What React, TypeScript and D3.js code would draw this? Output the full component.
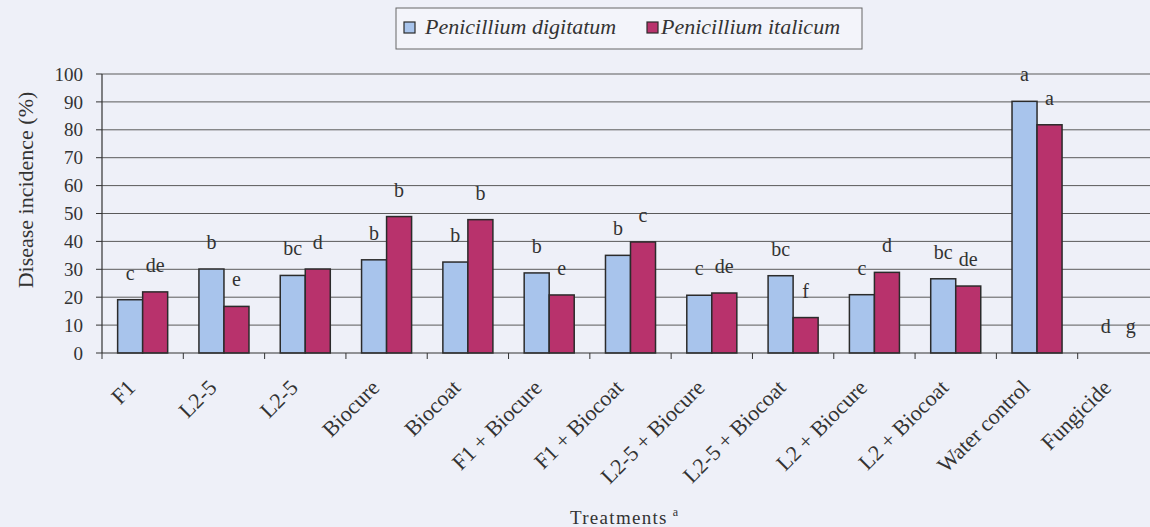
import React from "react";
import * as d3 from "d3";

const categories = [
  "F1", "L2-5", "L2-5 ", "Biocure", "Biocoat", "F1 + Biocure", "F1 + Biocoat",
  "L2-5 + Biocure", "L2-5 + Biocoat", "L2 + Biocure", "L2 + Biocoat", "Water control", "Fungicide",
];
const seriesNames = ["Penicillium digitatum", "Penicillium italicum"];
const digitatum = [19.1, 30.1, 27.8, 33.4, 32.6, 28.7, 35.0, 20.7, 27.7, 20.9, 26.6, 90.2, 0];
const italicum = [21.9, 16.7, 30.1, 48.9, 47.8, 20.8, 39.8, 21.5, 12.7, 28.9, 24.0, 81.8, 0];
const digitatumLetters = ["c", "b", "bc", "b", "b", "b", "b", "c", "bc", "c", "bc", "a", "d"];
const italicumLetters = ["de", "e", "d", "b", "b", "e", "c", "de", "f", "d", "de", "a", "g"];
const yTicks = [0, 10, 20, 30, 40, 50, 60, 70, 80, 90, 100];

const colors = ["#a8c4ec", "#b8326c"];
const FONT = "'Liberation Serif', 'DejaVu Serif', serif";
const ts = (size: number, extra: React.CSSProperties = {}): React.CSSProperties => ({
  fontFamily: FONT, fontSize: size, fill: "#333", ...extra,
});

export default function App() {
  const W = 1150, H = 527;
  const left = 102, right = 1159, top = 74, bottom = 353;
  const x = d3.scaleBand<string>().domain(categories).range([left, right]).padding(0);
  const x1 = d3.scaleBand<string>().domain(seriesNames).range([0, x.bandwidth()]).paddingInner(0).paddingOuter(0.625);
  const y = d3.scaleLinear().domain([0, 100]).range([bottom, top]);
  const series = [digitatum, italicum];
  const letters = [digitatumLetters, italicumLetters];

  return (
    <svg width={W} height={H} style={{ position: "absolute", left: 0, top: 0, background: "#eef0f8" }}>
      <rect x={0} y={0} width={W} height={H} fill="#eef0f8" />
      {yTicks.filter(t => t > 0).map(t => (
        <line key={"g" + t} x1={left} x2={W} y1={y(t)} y2={y(t)} stroke="#5a5a5a" strokeWidth={1} />
      ))}
      {categories.map((c, i) => (
        <g key={"c" + i} transform={`translate(${x(c)},0)`}>
          {series.map((s, j) => s[i] > 0 ? (
            <rect key={j} x={x1(seriesNames[j])} y={y(s[i])} width={x1.bandwidth()} height={y(0) - y(s[i])}
              fill={colors[j]} stroke="#2b2b2b" strokeWidth={1.5} />
          ) : null)}
          {series.map((s, j) => (
            <text key={"l" + j} x={(x1(seriesNames[j]) as number) + x1.bandwidth() / 2} y={y(s[i]) - 20}
              textAnchor="middle" style={ts(20)}>{letters[j][i]}</text>
          ))}
        </g>
      ))}
      <line x1={left} x2={left} y1={top} y2={bottom} stroke="#333" strokeWidth={1.2} />
      <line x1={left} x2={W} y1={bottom} y2={bottom} stroke="#333" strokeWidth={1.2} />
      {yTicks.map(t => (
        <g key={"yt" + t}>
          <line x1={left - 6} x2={left} y1={y(t)} y2={y(t)} stroke="#333" strokeWidth={1} />
          <text x={83} y={y(t)} dy="0.35em" textAnchor="end" style={ts(19)}>{t}</text>
        </g>
      ))}
      {categories.map((c, i) => (
        <line key={"xt" + i} x1={(x(c) as number)} x2={(x(c) as number)} y1={bottom} y2={bottom + 6}
          stroke="#333" strokeWidth={1} />
      ))}
      {categories.map((c, i) => {
        const cx = (x(c) as number) + x.bandwidth() / 2 - 6;
        const cy = bottom + 36;
        return (
          <text key={"xl" + i} x={cx} y={cy} transform={`rotate(-45 ${cx} ${cy})`} textAnchor="end"
            style={ts(22)}>{c.trim()}</text>
        );
      })}
      <text x={25} y={190} transform="rotate(-90 25 190)" textAnchor="middle" dominantBaseline="central"
        style={ts(22)}>Disease incidence (%)</text>
      <text x={570} y={524} style={ts(19, { letterSpacing: 1.3 })}>
        Treatments
        <tspan dx={5} dy={-8} style={{ fontSize: 12 }}>a</tspan>
      </text>
      <rect x={396} y={8} width={466} height={41} fill="#f3f4fa" stroke="#666" strokeWidth={1} />
      <rect x={404} y={22} width={11} height={11} fill={colors[0]} stroke="#2b2b2b" strokeWidth={1.2} />
      <text x={425} y={34} style={ts(22, { fontStyle: "italic" })}>{seriesNames[0]}</text>
      <rect x={647} y={22} width={11} height={11} fill={colors[1]} stroke="#2b2b2b" strokeWidth={1.2} />
      <text x={661} y={34} style={ts(22, { fontStyle: "italic" })}>{seriesNames[1]}</text>
    </svg>
  );
}
